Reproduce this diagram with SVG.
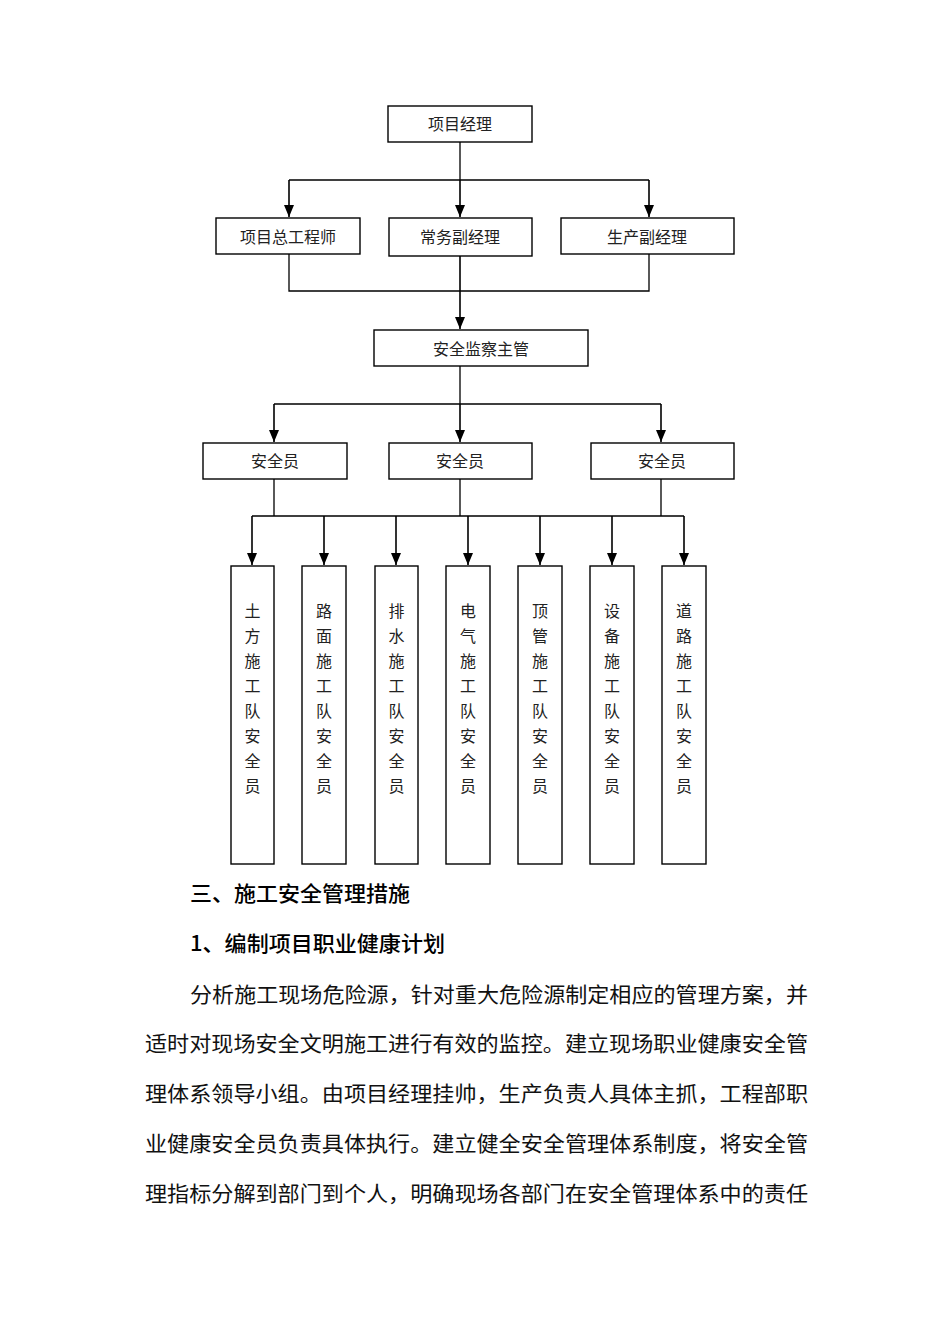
<svg xmlns="http://www.w3.org/2000/svg" width="950" height="1344" viewBox="0 0 950 1344">
<defs>
<marker id="ah" viewBox="0 0 12 10" refX="12" refY="5" markerWidth="12" markerHeight="10" markerUnits="userSpaceOnUse" orient="auto">
<path d="M0,0 L12,5 L0,10 Z" fill="#000"/>
</marker>
</defs>
<style>
rect{fill:#fff;stroke:#000;stroke-width:1.4}
.lbl{font-family:"Noto Sans CJK SC","Liberation Sans",sans-serif;font-size:16px;fill:#222;text-anchor:middle}
.vt{font-family:"Noto Sans CJK SC","Liberation Sans",sans-serif;font-size:16px;fill:#222;text-anchor:middle}
.ln{fill:none;stroke:#000;stroke-width:1.3}
.arr{fill:none;stroke:#000;stroke-width:1.6;marker-end:url(#ah)}
.h{font-family:"Noto Sans CJK SC","Liberation Sans",sans-serif;font-size:21px;font-weight:500;fill:#000}
.p{font-family:"Noto Sans CJK SC","Liberation Sans",sans-serif;font-size:21px;fill:#111}
</style>
<rect x="0" y="0" width="950" height="1344" style="fill:#fff;stroke:none"/>
<g id="connectors">
<path class="ln" d="M460,142 V180 M289,180 H649"/>
<path class="arr" d="M289,180 V217"/>
<path class="arr" d="M460,180 V217"/>
<path class="arr" d="M649,180 V217"/>
<path class="ln" d="M289,254 V291 H649 V254"/>
<path class="arr" d="M460,256 V329"/>
<path class="ln" d="M460,366 V404 M274,404 H661"/>
<path class="arr" d="M274,404 V442"/>
<path class="arr" d="M460,404 V442"/>
<path class="arr" d="M661,404 V442"/>
<path class="ln" d="M274,479 V516 M460,479 V516 M661,479 V516 M252,516 H684"/>
<path class="arr" d="M252,516 V565"/>
<path class="arr" d="M324,516 V565"/>
<path class="arr" d="M396,516 V565"/>
<path class="arr" d="M468,516 V565"/>
<path class="arr" d="M540,516 V565"/>
<path class="arr" d="M612,516 V565"/>
<path class="arr" d="M684,516 V565"/>
</g>
<g id="n-pm"><rect x="388" y="106" width="144" height="36"/><text class="lbl" x="460" y="130">项目经理</text></g>
<g id="n-chief"><rect x="216" y="218" width="144" height="36"/><text class="lbl" x="288" y="243">项目总工程师</text></g>
<g id="n-exec"><rect x="389" y="218" width="143" height="38"/><text class="lbl" x="460" y="243">常务副经理</text></g>
<g id="n-prod"><rect x="561" y="218" width="173" height="36"/><text class="lbl" x="647" y="243">生产副经理</text></g>
<g id="n-sup"><rect x="374" y="330" width="214" height="36"/><text class="lbl" x="481" y="355">安全监察主管</text></g>
<g id="n-s1"><rect x="203" y="443" width="144" height="36"/><text class="lbl" x="275" y="467">安全员</text></g>
<g id="n-s2"><rect x="389" y="443" width="143" height="36"/><text class="lbl" x="460" y="467">安全员</text></g>
<g id="n-s3"><rect x="591" y="443" width="143" height="36"/><text class="lbl" x="662" y="467">安全员</text></g>
<g id="n-t1"><rect x="231" y="566" width="43" height="298"/>
<text class="vt" x="252.5" y="617">土</text><text class="vt" x="252.5" y="642">方</text><text class="vt" x="252.5" y="667">施</text><text class="vt" x="252.5" y="692">工</text><text class="vt" x="252.5" y="717">队</text><text class="vt" x="252.5" y="742">安</text><text class="vt" x="252.5" y="767">全</text><text class="vt" x="252.5" y="792">员</text></g>
<g id="n-t2"><rect x="302" y="566" width="44" height="298"/>
<text class="vt" x="324" y="617">路</text><text class="vt" x="324" y="642">面</text><text class="vt" x="324" y="667">施</text><text class="vt" x="324" y="692">工</text><text class="vt" x="324" y="717">队</text><text class="vt" x="324" y="742">安</text><text class="vt" x="324" y="767">全</text><text class="vt" x="324" y="792">员</text></g>
<g id="n-t3"><rect x="375" y="566" width="43" height="298"/>
<text class="vt" x="396.5" y="617">排</text><text class="vt" x="396.5" y="642">水</text><text class="vt" x="396.5" y="667">施</text><text class="vt" x="396.5" y="692">工</text><text class="vt" x="396.5" y="717">队</text><text class="vt" x="396.5" y="742">安</text><text class="vt" x="396.5" y="767">全</text><text class="vt" x="396.5" y="792">员</text></g>
<g id="n-t4"><rect x="446" y="566" width="44" height="298"/>
<text class="vt" x="468" y="617">电</text><text class="vt" x="468" y="642">气</text><text class="vt" x="468" y="667">施</text><text class="vt" x="468" y="692">工</text><text class="vt" x="468" y="717">队</text><text class="vt" x="468" y="742">安</text><text class="vt" x="468" y="767">全</text><text class="vt" x="468" y="792">员</text></g>
<g id="n-t5"><rect x="518" y="566" width="44" height="298"/>
<text class="vt" x="540" y="617">顶</text><text class="vt" x="540" y="642">管</text><text class="vt" x="540" y="667">施</text><text class="vt" x="540" y="692">工</text><text class="vt" x="540" y="717">队</text><text class="vt" x="540" y="742">安</text><text class="vt" x="540" y="767">全</text><text class="vt" x="540" y="792">员</text></g>
<g id="n-t6"><rect x="590" y="566" width="44" height="298"/>
<text class="vt" x="612" y="617">设</text><text class="vt" x="612" y="642">备</text><text class="vt" x="612" y="667">施</text><text class="vt" x="612" y="692">工</text><text class="vt" x="612" y="717">队</text><text class="vt" x="612" y="742">安</text><text class="vt" x="612" y="767">全</text><text class="vt" x="612" y="792">员</text></g>
<g id="n-t7"><rect x="662" y="566" width="44" height="298"/>
<text class="vt" x="684" y="617">道</text><text class="vt" x="684" y="642">路</text><text class="vt" x="684" y="667">施</text><text class="vt" x="684" y="692">工</text><text class="vt" x="684" y="717">队</text><text class="vt" x="684" y="742">安</text><text class="vt" x="684" y="767">全</text><text class="vt" x="684" y="792">员</text></g>
<g id="body">
<text class="h" x="190" y="901" textLength="220" lengthAdjust="spacingAndGlyphs">三、施工安全管理措施</text>
<text class="h" x="190" y="951" textLength="255" lengthAdjust="spacingAndGlyphs">1、编制项目职业健康计划</text>
<text class="p" x="190" y="1002" textLength="618" lengthAdjust="spacingAndGlyphs">分析施工现场危险源，针对重大危险源制定相应的管理方案，并</text>
<text class="p" x="145" y="1051" textLength="663" lengthAdjust="spacingAndGlyphs">适时对现场安全文明施工进行有效的监控。建立现场职业健康安全管</text>
<text class="p" x="145" y="1101" textLength="663" lengthAdjust="spacingAndGlyphs">理体系领导小组。由项目经理挂帅，生产负责人具体主抓，工程部职</text>
<text class="p" x="145" y="1151" textLength="663" lengthAdjust="spacingAndGlyphs">业健康安全员负责具体执行。建立健全安全管理体系制度，将安全管</text>
<text class="p" x="145" y="1201" textLength="663" lengthAdjust="spacingAndGlyphs">理指标分解到部门到个人，明确现场各部门在安全管理体系中的责任</text>
</g>
</svg>
